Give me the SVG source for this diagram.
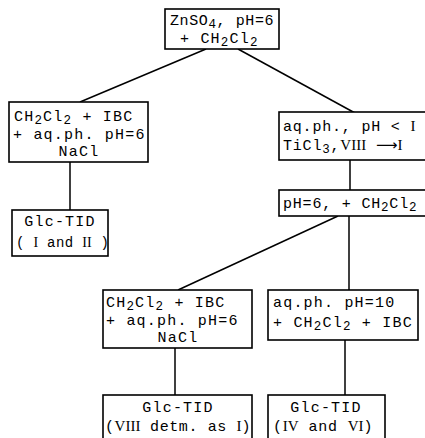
<svg xmlns="http://www.w3.org/2000/svg" width="425" height="438" viewBox="0 0 425 438">
<style>
.box{fill:#fff;stroke:#000;stroke-width:1.6}
.ln{stroke:#000;stroke-width:1.5;fill:none}
text{font-family:"Liberation Mono","DejaVu Sans Mono",monospace;font-size:15px;fill:#000;letter-spacing:1.2px}
.s{font-size:12.5px}
.c{text-anchor:middle}
.r{font-family:"Liberation Serif","DejaVu Serif",serif;letter-spacing:0}
.a{font-family:"DejaVu Sans",sans-serif;letter-spacing:0}
.n{letter-spacing:0.6px}
.m{letter-spacing:0.8px}
.k{font-size:14px;letter-spacing:0.4px}
</style>
<rect width="425" height="438" fill="#fff"/>
<g id="connectors">
<line class="ln" x1="206" y1="49" x2="80" y2="102"/>
<line class="ln" x1="238" y1="49" x2="355" y2="113"/>
<line class="ln" x1="70" y1="162" x2="70" y2="210"/>
<line class="ln" x1="350" y1="160" x2="350" y2="190"/>
<line class="ln" x1="338" y1="216" x2="178" y2="290"/>
<line class="ln" x1="349" y1="216" x2="349" y2="290"/>
<line class="ln" x1="175" y1="348" x2="175" y2="395"/>
<line class="ln" x1="345" y1="340" x2="345" y2="395"/>
</g>
<g id="n1">
<rect class="box" x="165" y="9" width="114" height="40"/>
<text x="170" y="25" class="n">ZnSO<tspan class="s" dy="3">4</tspan><tspan dy="-3">, pH=6</tspan></text>
<text x="180" y="43">+ CH<tspan class="s" dy="3">2</tspan><tspan dy="-3">Cl</tspan><tspan class="s" dy="3">2</tspan></text>
</g>
<g id="n2">
<rect class="box" x="9" y="102" width="139" height="60"/>
<text x="14" y="121">CH<tspan class="s" dy="3">2</tspan><tspan dy="-3">Cl</tspan><tspan class="s" dy="3">2</tspan><tspan dy="-3"> + IBC</tspan></text>
<text x="13" y="139">+ aq.ph. pH=6</text>
<text x="79" y="156" class="c">NaCl</text>
</g>
<g id="n3">
<rect class="box" x="12" y="210" width="96" height="46"/>
<text x="60" y="226" class="c">Glc-TID</text>
<text x="16" y="247" class="k">( <tspan class="r">I</tspan> and <tspan class="r">II</tspan> )</text>
</g>
<g id="n4">
<rect class="box" x="279" y="112" width="150" height="48"/>
<text x="283" y="131" class="m">aq.ph., pH &lt; <tspan class="r">I</tspan></text>
<text x="283" y="150" class="m">TiCl<tspan class="s" dy="3">3</tspan><tspan dy="-3">,</tspan><tspan class="r">VIII</tspan> <tspan class="a">⟶</tspan><tspan class="r">I</tspan></text>
</g>
<g id="n5">
<rect class="box" x="279" y="190" width="150" height="26"/>
<text x="283" y="208" class="m">pH=6, + CH<tspan class="s" dy="3">2</tspan><tspan dy="-3">Cl</tspan><tspan class="s" dy="3">2</tspan></text>
</g>
<g id="n6">
<rect class="box" x="103" y="290" width="149" height="58"/>
<text x="106" y="307">CH<tspan class="s" dy="3">2</tspan><tspan dy="-3">Cl</tspan><tspan class="s" dy="3">2</tspan><tspan dy="-3"> + IBC</tspan></text>
<text x="106" y="325">+ aq.ph. pH=6</text>
<text x="178" y="342" class="c">NaCl</text>
</g>
<g id="n7">
<rect class="box" x="268" y="290" width="150" height="50"/>
<text x="273" y="307">aq.ph. pH=10</text>
<text x="273" y="327">+ CH<tspan class="s" dy="3">2</tspan><tspan dy="-3">Cl</tspan><tspan class="s" dy="3">2</tspan><tspan dy="-3"> + IBC</tspan></text>
</g>
<g id="n8">
<rect class="box" x="103" y="395" width="149" height="50"/>
<text x="178" y="412" class="c">Glc-TID</text>
<text x="105" y="431" class="n">(<tspan class="r">VIII</tspan> detm. as <tspan class="r">I</tspan>)</text>
</g>
<g id="n9">
<rect class="box" x="268" y="395" width="117" height="50"/>
<text x="326" y="412" class="c">Glc-TID</text>
<text x="273" y="431" class="m">(<tspan class="r">IV</tspan> and <tspan class="r">VI</tspan>)</text>
</g>
</svg>
